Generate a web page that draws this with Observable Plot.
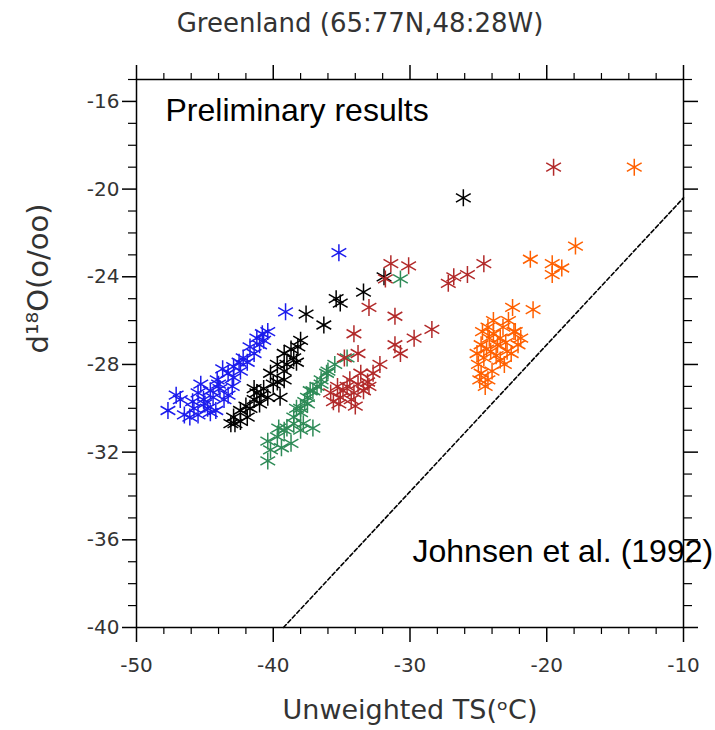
<!DOCTYPE html>
<html><head><meta charset="utf-8">
<script src="https://cdn.jsdelivr.net/npm/d3@7"></script>
<script src="https://cdn.jsdelivr.net/npm/@observablehq/plot@0.6"></script>
<style>body{margin:0;background:#fff}</style>
</head><body><div id="chart"></div>
<script>
// ---- data ----
const blueT = [-35.2,-39.1,-40.4,-41.2,-40.7,-41.7,-41.4,-42.2,-41.9,-42.9,-42.4,-43.3,-42.9,-44.1,-45.3,-44.6,-43.9,-45.5,-44.4,-45.1,-43.6,-45.8,-44.8,-45.5,-46.1,-44.6,-45.0,-43.3,-47.7,-47.1,-46.8,-44.0,-43.0,-45.9,-46.5,-44.2,-42.5,-41.0,-40.8,-43.7];
const blueD = [-22.9,-25.6,-26.5,-26.8,-26.9,-27.2,-27.5,-27.7,-27.9,-28.1,-28.3,-28.4,-28.6,-28.7,-28.9,-29.2,-29.1,-29.3,-29.5,-29.6,-29.6,-30.0,-30.0,-30.3,-30.4,-30.2,-29.8,-29.4,-30.1,-29.4,-29.6,-28.9,-29.0,-29.7,-30.3,-30.1,-27.9,-27.1,-26.6,-28.2];
const blackT = [-26.1,-31.9,-33.4,-35.1,-35.4,-36.3,-37.6,-38.0,-38.7,-39.2,-38.5,-39.7,-39.2,-40.2,-39.7,-40.7,-40.4,-41.4,-41.7,-42.4,-42.9,-42.4,-43.1,-41.9,-41.2,-41.4,-39.2,-39.5,-42.0,-41.0,-40.0,-39.0,-38.2,-42.8,-40.9,-38.3];
const blackD = [-20.4,-24.0,-24.7,-25.2,-25.0,-26.2,-25.7,-26.9,-27.3,-27.5,-27.7,-28.0,-28.3,-28.4,-28.8,-29.1,-29.5,-29.6,-30.0,-30.1,-30.4,-30.6,-30.7,-30.4,-29.3,-29.1,-28.7,-29.5,-29.9,-29.8,-28.9,-28.0,-27.2,-30.7,-29.4,-27.9];
const greenT = [-30.7,-34.6,-36.1,-36.5,-37.1,-37.5,-38.0,-38.5,-37.8,-39.0,-36.0,-36.5,-37.3,-37.5,-38.0,-38.5,-39.2,-39.7,-40.4,-40.2,-40.4,-38.0,-37.1,-38.7,-36.8,-38.3,-39.6,-35.5,-37.7,-39.4];
const greenD = [-24.1,-27.7,-28.4,-28.9,-29.2,-29.5,-30.0,-30.4,-30.7,-30.9,-28.3,-28.7,-29.2,-29.8,-30.2,-30.7,-31.0,-31.3,-31.5,-31.9,-32.4,-31.0,-30.9,-31.6,-29.0,-30.0,-30.9,-28.0,-29.7,-31.8];
const redT = [-19.5,-31.4,-30.1,-31.8,-26.8,-25.8,-24.6,-33.0,-31.1,-28.4,-29.7,-31.1,-30.7,-34.1,-33.8,-34.8,-32.2,-32.7,-33.1,-33.8,-34.6,-35.3,-35.1,-35.8,-34.1,-35.6,-34.3,-33.4,-27.2,-34.9,-34.0,-33.0,-35.2,-33.6,-34.4];
const redD = [-19.0,-23.4,-23.5,-24.1,-24.0,-23.9,-23.4,-25.4,-25.8,-26.4,-26.8,-27.1,-27.5,-26.6,-27.5,-27.7,-28.0,-28.4,-28.8,-28.9,-29.0,-29.0,-29.5,-29.3,-29.3,-29.7,-29.6,-29.2,-24.3,-29.2,-29.9,-29.0,-29.8,-28.4,-28.7];
const orangeT = [-13.6,-17.9,-21.2,-19.6,-18.9,-19.6,-22.5,-21.0,-23.9,-24.3,-22.3,-23.4,-21.9,-24.8,-24.1,-22.9,-24.6,-23.4,-25.0,-24.0,-24.8,-24.3,-24.5,-22.6,-22.1,-23.6,-25.1,-23.2,-23.9,-24.7,-23.7,-24.4,-22.8,-24.9,-23.1,-24.2,-23.0,-22.4];
const orangeD = [-19.0,-22.6,-23.2,-23.4,-23.6,-23.9,-25.4,-25.5,-26.0,-26.3,-26.5,-26.8,-26.8,-27.1,-27.4,-27.4,-27.7,-27.8,-28.0,-28.3,-28.4,-28.7,-29.0,-27.5,-27.1,-27.1,-27.5,-26.3,-26.6,-26.5,-27.6,-27.3,-26.0,-28.7,-28.0,-26.8,-27.0,-26.5];
// Johnsen et al. (1992) relation, endpoints as drawn
const johnsenT = [-39.25, -10];
const johnsenD = [-40, -20.4];
// tick values
const xMajor = [-50, -40, -30, -20, -10];
const xMinor = [-48,-46,-44,-42,-38,-36,-34,-32,-28,-26,-24,-22,-18,-16,-14,-12];
const yMajor = [-40, -36, -32, -28, -24, -20, -16];
const yMinor = [-39,-38,-37,-35,-34,-33,-31,-30,-29,-27,-26,-25,-23,-22,-21,-19,-18,-17,-15];

const series = [
  {T: blueT, D: blueD, color: "#1c1ced"},
  {T: blackT, D: blackD, color: "#000000"},
  {T: greenT, D: greenD, color: "#2e8b57"},
  {T: redT, D: redD, color: "#b22a2a"},
  {T: orangeT, D: orangeD, color: "#ff6000"}
];
const rowsOf = s => s.T.map((t, i) => ({T: t, D: s.D[i]}));
const johnsen = johnsenT.map((t, i) => ({T: t, D: johnsenD[i]}));

// 6-armed asterisk marker
const asterisk = {
  draw(ctx, size) {
    const r = Math.sqrt(size / Math.PI);
    for (const a of [90, 30, -30]) {
      const rad = a * Math.PI / 180, c = r * Math.cos(rad), s = r * Math.sin(rad);
      ctx.moveTo(c, s); ctx.lineTo(-c, -s);
    }
  }
};

const ncl = "DejaVu Sans";
const tc = "#333";
const fmt = d => String(d);
const blank = () => "";

const chart = Plot.plot({
  width: 715, height: 730,
  marginTop: 79, marginBottom: 103, marginLeft: 136, marginRight: 32,
  style: {fontFamily: ncl, background: "#fff"},
  x: {domain: [-50, -10], axis: null},
  y: {domain: [-40, -15], axis: null},
  marks: [
    Plot.line(johnsen, {x: "T", y: "D", stroke: "black", strokeWidth: 1.6, strokeDasharray: "4,2.5"}),
    ...series.map(s => Plot.dot(rowsOf(s), {x: "T", y: "D", symbol: asterisk, r: 8.5, fill: "none", stroke: s.color, strokeWidth: 1.5})),
    Plot.frame({stroke: "black", strokeWidth: 1.5}),
    Plot.axisX(xMajor, {anchor: "bottom", tickSize: 15, tickPadding: 15, tickFormat: fmt, fontSize: 20, fill: tc, stroke: "black", strokeWidth: 1.5, label: null}),
    Plot.axisX(xMinor, {anchor: "bottom", tickSize: 7, tickFormat: blank, stroke: "black", strokeWidth: 1.2, label: null}),
    Plot.axisX(xMajor, {anchor: "top", tickSize: 15, tickFormat: blank, stroke: "black", strokeWidth: 1.5, label: null}),
    Plot.axisX(xMinor, {anchor: "top", tickSize: 7, tickFormat: blank, stroke: "black", strokeWidth: 1.2, label: null}),
    Plot.axisY(yMajor, {anchor: "left", tickSize: 14, tickPadding: 3, tickFormat: fmt, fontSize: 20, fill: tc, stroke: "black", strokeWidth: 1.5, label: null}),
    Plot.axisY(yMinor, {anchor: "left", tickSize: 8, tickFormat: blank, stroke: "black", strokeWidth: 1.2, label: null}),
    Plot.axisY(yMajor, {anchor: "right", tickSize: 14, tickFormat: blank, stroke: "black", strokeWidth: 1.5, label: null}),
    Plot.axisY(yMinor, {anchor: "right", tickSize: 8, tickFormat: blank, stroke: "black", strokeWidth: 1.2, label: null}),
    Plot.text(["Greenland (65:77N,48:28W)"], {text: d => d, frameAnchor: "top", dx: -50, dy: -66, fontSize: 26, fontFamily: ncl, fill: tc}),
    Plot.text(["Unweighted TS(ᵒC)"], {text: d => d, frameAnchor: "bottom", dy: 91, fontSize: 27, fontFamily: ncl, fill: tc}),
    Plot.text(["d¹⁸O(o/oo)"], {text: d => d, frameAnchor: "left", rotate: -90, dx: -98, fontSize: 29, fontFamily: ncl, fill: tc}),
    Plot.text(["Preliminary results"], {text: d => d, frameAnchor: "top-left", textAnchor: "start", dx: 29, dy: 19, fontSize: 32, fontFamily: "Liberation Sans", fill: "black"}),
    Plot.text(["Johnsen et al. (1992)"], {text: d => d, frameAnchor: "top-left", textAnchor: "start", dx: 276, dy: 460, fontSize: 32, fontFamily: "Liberation Sans", fill: "black"})
  ]
});
document.getElementById("chart").appendChild(chart);
</script>
</body></html>
